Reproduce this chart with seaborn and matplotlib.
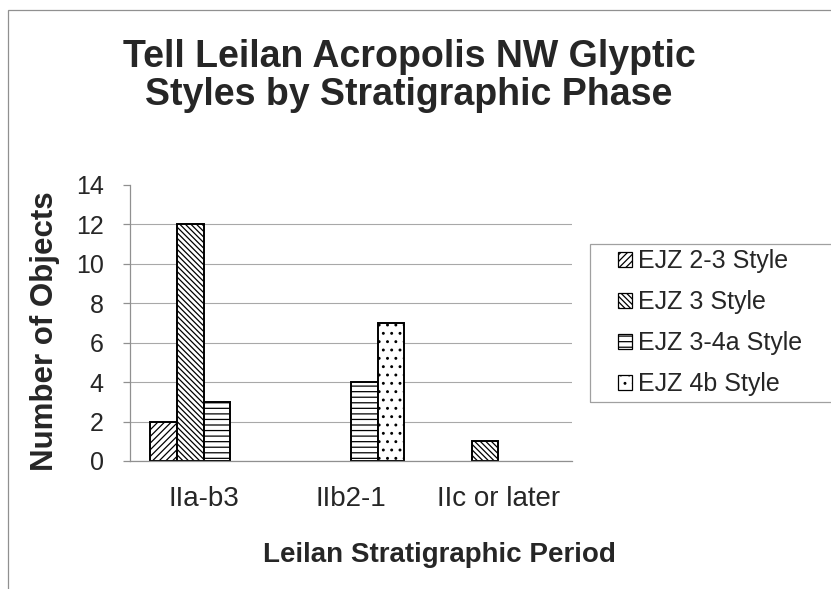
import pandas as pd
import numpy as np
import matplotlib
matplotlib.use("Agg")
import matplotlib.pyplot as plt
import matplotlib.patches as mpatches
import seaborn as sns

# datos
periodos = ["IIa-b3", "IIb2-1", "IIc or later"]
estilos = ["EJZ 2-3 Style", "EJZ 3 Style", "EJZ 3-4a Style", "EJZ 4b Style"]
ejz_2_3 = [2, 0, 0]
ejz_3 = [12, 0, 1]
ejz_3_4a = [3, 4, 0]
ejz_4b = [0, 7, 0]
ticks_y = [0, 2, 4, 6, 8, 10, 12, 14]

tramas = ["/////", "\\" * 6, "---", ".."]

sns.set_style("white")
plt.rcParams["font.family"] = ["Liberation Sans", "DejaVu Sans"]
plt.rcParams["hatch.linewidth"] = 0.9

df = pd.DataFrame({
    "periodo": periodos * 4,
    "estilo": [e for e in estilos for _ in periodos],
    "n": ejz_2_3 + ejz_3 + ejz_3_4a + ejz_4b,
})

fig = plt.figure(figsize=(8.31, 5.89), dpi=100)
W, H = 831, 589
ax = fig.add_axes([130 / W, 1 - 461 / H, 442 / W, 276 / H])

sns.barplot(data=df, x="periodo", y="n", hue="estilo", order=periodos,
            hue_order=estilos, width=0.725, gap=0, palette=["white"] * 4,
            edgecolor="black", linewidth=1.4, legend=False, ax=ax)

for cont, trama in zip(ax.containers, tramas):
    for barra in cont:
        barra.set_hatch(trama)
        if barra.get_height() == 0:
            barra.set_visible(False)

ax.set_xlim(-0.5, 2.5)
ax.set_ylim(0, 14)
ax.set_yticks(ticks_y)
ax.yaxis.grid(True, color="#a8a8a8", linewidth=0.8)
ax.set_axisbelow(True)
for s in ["top", "right"]:
    ax.spines[s].set_visible(False)
for s in ["left", "bottom"]:
    ax.spines[s].set_color("#909090")
    ax.spines[s].set_linewidth(0.9)

ax.set_xticks([-0.5, 0.5, 1.5, 2.5], minor=True)
ax.tick_params(axis="x", which="major", length=0, pad=18, labelsize=20)
ax.tick_params(axis="x", which="minor", length=6, width=0.9, color="#909090",
               direction="out")
ax.tick_params(axis="y", length=5, width=0.9, color="#909090", direction="out",
               pad=14, labelsize=18, left=True)

ax.set_xlabel("Leilan Stratigraphic Period", fontsize=20, fontweight="bold")
ax.xaxis.set_label_coords(0.701, -0.293)
ax.set_ylabel("Number of Objects", fontsize=22.5, fontweight="bold")
ax.yaxis.set_label_coords(-0.158, 0.47)

fig.canvas.draw()
ax.yaxis.get_gridlines()[-1].set_visible(False)

fig.text(409 / W, 1 - 76 / H, "Tell Leilan Acropolis NW Glyptic\nStyles by Stratigraphic Phase",
         ha="center", va="center", fontsize=27, fontweight="bold", linespacing=1.1)

# leyenda
handles = [mpatches.Patch(facecolor="white", edgecolor="black", hatch=t, linewidth=0.9)
           for t in tramas]
fig.legend(handles, estilos, loc="upper left", bbox_to_anchor=(618 / W, 1 - 249 / H),
           frameon=False, fontsize=18, handlelength=0.55, handleheight=0.55,
           handletextpad=0.25, labelspacing=0.68, borderpad=0, borderaxespad=0)
fig.patches.append(mpatches.Rectangle((590 / W, 1 - 402 / H), 0.4, 158 / H,
                                      transform=fig.transFigure, fill=False,
                                      edgecolor="#a0a0a0", linewidth=0.9))

# borde del grafico
fig.patches.append(mpatches.Rectangle((8 / W, -0.1), 1.1, 1.1 - 10 / H,
                                      transform=fig.transFigure, fill=False,
                                      edgecolor="#909090", linewidth=0.9))

fig.savefig("out.png", dpi=100)
